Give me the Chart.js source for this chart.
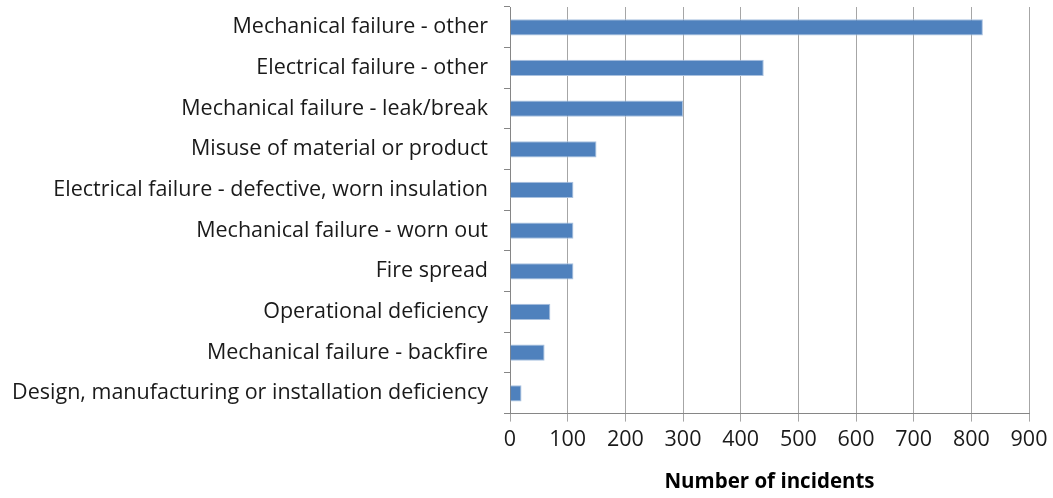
<!DOCTYPE html>
<html>
<head>
<meta charset="utf-8">
<script src="https://cdn.jsdelivr.net/npm/chart.js@4"></script>
<style>
  html, body { margin: 0; padding: 0; background: #fff; }
  #wrap { width: 1053px; height: 498px; }
</style>
</head>
<body>
<div id="wrap"><canvas id="chart"></canvas></div>
<script>
const categories = [
    "Mechanical failure - other",
    "Electrical failure - other",
    "Mechanical failure - leak/break",
    "Misuse of material or product",
    "Electrical failure - defective, worn insulation",
    "Mechanical failure - worn out",
    "Fire spread",
    "Operational deficiency",
    "Mechanical failure - backfire",
    "Design, manufacturing or installation deficiency"
];
const incidents = [820, 440, 300, 150, 110, 110, 110, 70, 60, 20];
const xTicks = [0, 100, 200, 300, 400, 500, 600, 700, 800, 900];

const FONT = "'Open Sans', Lato, sans-serif";
const ctx = document.getElementById("chart").getContext("2d");

new Chart(ctx, {
    type: "bar",
    data: {
        labels: categories,
        datasets: [{
            label: "Number of incidents",
            data: incidents,
            backgroundColor: "#4f81bd",
            borderColor: "#a9c1df",
            borderWidth: 1,
            categoryPercentage: 1,
            barPercentage: 0.4,
        }],
    },
    options: {
        indexAxis: "y",
        responsive: true,
        maintainAspectRatio: false,
        animation: false,
        layout: { padding: { top: 7, right: 24, bottom: 4, left: 0 } },
        plugins: {
            legend: { display: false },
            tooltip: { enabled: false },
        },
        scales: {
            x: {
                min: 0,
                max: 900,
                afterBuildTicks: (axis) => { axis.ticks = xTicks.map(v => ({ value: v })); },
                grid: { color: "#a6a6a6", lineWidth: 1, tickLength: 8, drawTicks: true },
                border: { color: "#868686", width: 1 },
                ticks: { color: "#1a1a1a", font: { family: FONT, size: 21.5 }, padding: 5, maxRotation: 0 },
                title: {
                    display: true,
                    text: "Number of incidents",
                    color: "#000",
                    font: { family: FONT, size: 20.5, weight: "bold" },
                    padding: { top: 12, bottom: 0 },
                },
            },
            y: {
                afterFit: (axis) => {
                    axis.width = 510;
                    axis.paddingTop = 0;
                    axis.paddingBottom = 0;
                },
                grid: { drawOnChartArea: false, offset: true, tickLength: 6, color: "#868686" },
                border: { color: "#868686", width: 1 },
                ticks: { color: "#1a1a1a", font: { family: FONT, size: 21.5 }, padding: 16, autoSkip: false },
            },
        },
    },
});
</script>
</body>
</html>
